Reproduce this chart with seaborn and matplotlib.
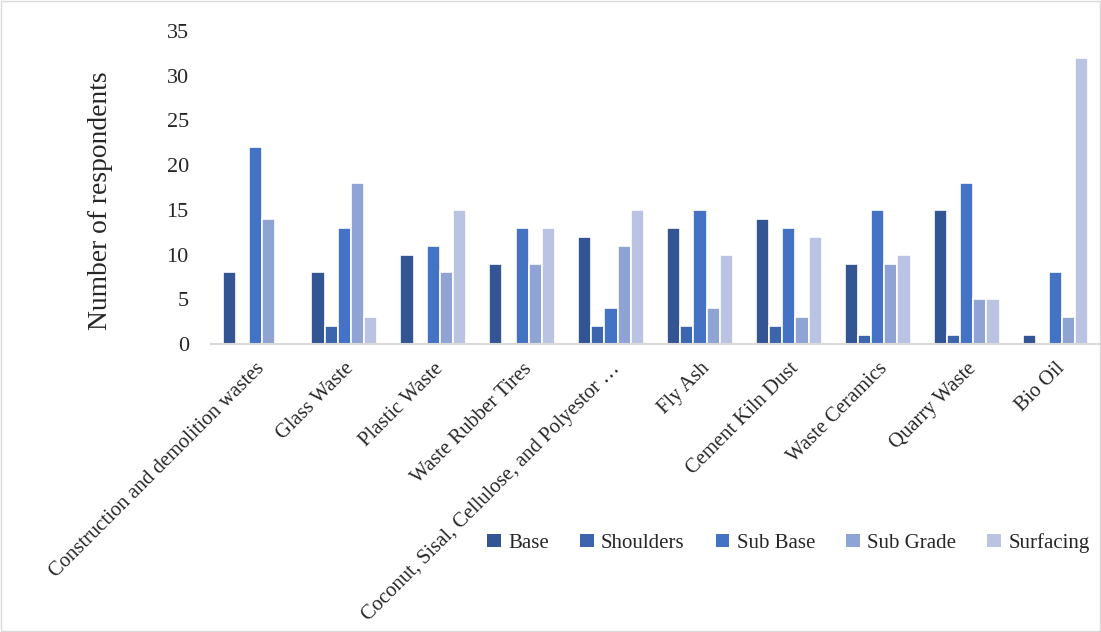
import matplotlib
matplotlib.use("Agg")
import matplotlib.pyplot as plt
import seaborn as sns
import pandas as pd
from matplotlib.patches import Rectangle

categories = ["Construction and demolition wastes", "Glass Waste", "Plastic Waste",
              "Waste Rubber Tires", "Coconut, Sisal, Cellulose, and Polyestor \u2026",
              "Fly Ash", "Cement Kiln Dust", "Waste Ceramics", "Quarry Waste", "Bio Oil"]
series = ["Base", "Shoulders", "Sub Base", "Sub Grade", "Surfacing"]
base = [8, 8, 10, 9, 12, 13, 14, 9, 15, 1]
shoulders = [0, 2, 0, 0, 2, 2, 2, 1, 1, 0]
sub_base = [22, 13, 11, 13, 4, 15, 13, 15, 18, 8]
sub_grade = [14, 18, 8, 9, 11, 4, 3, 9, 5, 3]
surfacing = [0, 3, 15, 13, 15, 10, 12, 10, 5, 32]
colors = ["#335593", "#3c65ae", "#4472c4", "#8fa4d4", "#bac4e2"]

rows = []
for s, vals in zip(series, [base, shoulders, sub_base, sub_grade, surfacing]):
    for c, v in zip(categories, vals):
        rows.append({"Category": c, "Series": s, "Value": v})
df = pd.DataFrame(rows)

sns.set_theme(style="white")
plt.rcParams['font.family'] = ['Liberation Serif', 'DejaVu Serif']

fig = plt.figure(figsize=(11.01, 6.32), dpi=100)
ax = fig.add_axes([211/1101, 1-344/632, 889/1101, (344-31)/632])
sns.barplot(data=df, x="Category", y="Value", hue="Series", order=categories,
            hue_order=series, palette=colors, saturation=1, width=0.74,
            edgecolor="white", linewidth=1.2, ax=ax, legend=False)
ax.set_ylim(0, 35)
ax.set_yticks(range(0, 36, 5))
ax.set_xlim(-0.5, len(categories) - 0.5)
ax.tick_params(axis='y', labelsize=16, length=0, pad=16)
ax.tick_params(axis='x', labelsize=14.9, length=0, pad=11)
for lbl in ax.get_xticklabels():
    lbl.set_rotation(45)
    lbl.set_ha("right")
    lbl.set_rotation_mode("anchor")
ax.set_xlabel("")
ax.set_ylabel("Number of respondents", fontsize=19.8)
ax.yaxis.label.set_va("center")
ax.yaxis.set_label_coords(-0.124, 0.457)
for sp in ["top", "right", "left"]:
    ax.spines[sp].set_visible(False)
ax.spines["bottom"].set_color("#d9d9d9")
ax.spines["bottom"].set_linewidth(1.5)

handles = [Rectangle((0, 0), 1, 1, facecolor=c, edgecolor="none") for c in colors]
fig.legend(handles, series, loc="center", bbox_to_anchor=(0.716, 0.141), ncol=5,
           frameon=False, fontsize=15, handlelength=0.65, handleheight=0.65,
           handletextpad=0.35, columnspacing=1.5)

fig.patches.append(Rectangle((0.001, 0.001), 0.998, 0.998, transform=fig.transFigure,
                             fill=False, edgecolor="#d9d9d9", linewidth=1))
fig.savefig("out.png", dpi=100)
